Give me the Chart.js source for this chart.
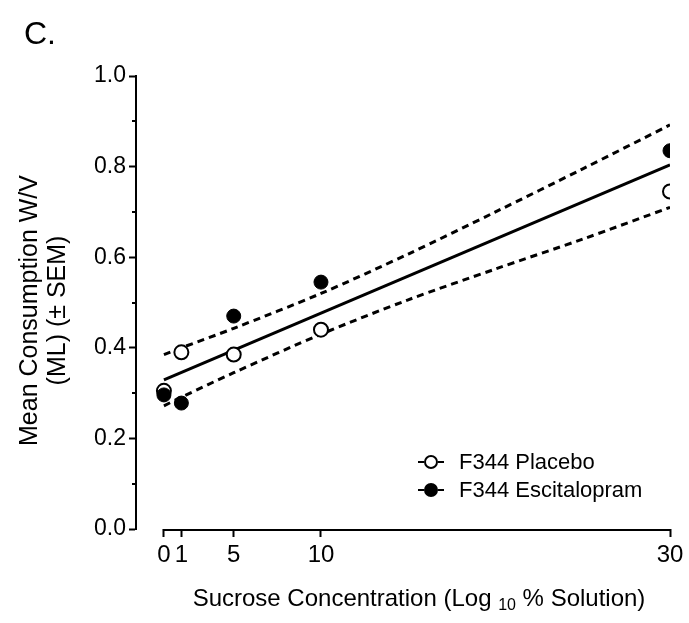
<!DOCTYPE html>
<html>
<head>
<meta charset="utf-8">
<script src="https://cdn.jsdelivr.net/npm/chart.js@4.4.1/dist/chart.umd.min.js"></script>
<style>
  body { margin: 0; background: #fff; }
  canvas { display: block; }
</style>
</head>
<body>
<canvas id="sucroseChart" width="689" height="623"></canvas>
<script>
// sucrose concentrations: plotting position and printed label
const xPos = [1, 2, 5, 10, 30];
const tickLabels = ['0', '1', '5', '10', '30'];

// mean consumption per group
const placebo = [0.305, 0.39, 0.385, 0.44, 0.745];
const escitalopram = [0.296, 0.278, 0.47, 0.545, 0.835];

// pooled regression line and its 95% band
const fitX = [1, 30];
const fitY = [0.329, 0.804];
const bandX = [1, 2, 5, 10, 15, 20, 25, 30];
const bandUpper = [0.385, 0.400, 0.443, 0.520, 0.607, 0.700, 0.795, 0.892];
const bandLower = [0.272, 0.291, 0.345, 0.430, 0.506, 0.574, 0.640, 0.710];

const yTicks = [0, 0.2, 0.4, 0.6, 0.8, 1.0];

const FONT = "'Liberation Sans', Arial, sans-serif";

function pts(xs, ys) {
  return xs.map((x, i) => ({ x: x, y: ys[i] }));
}

// extra drawing: x axis line, minor y ticks, titles, legend
const extras = {
  id: 'extras',
  afterDraw(chart) {
    const c = chart.ctx;
    const xs = chart.scales.x;
    const ys = chart.scales.y;
    const area = chart.chartArea;
    c.save();
    c.strokeStyle = '#000';
    c.fillStyle = '#000';

    // x axis line only across the data range
    c.lineWidth = 2;
    c.beginPath();
    c.moveTo(xs.getPixelForValue(xPos[0]) - 1, area.bottom + 1);
    c.lineTo(xs.getPixelForValue(xPos[xPos.length - 1]) + 1, area.bottom + 1);
    c.stroke();

    // short minor ticks between labelled ones
    for (let i = 0; i < yTicks.length - 1; i++) {
      const py = Math.round(ys.getPixelForValue((yTicks[i] + yTicks[i + 1]) / 2));
      c.beginPath();
      c.moveTo(area.left - 4, py);
      c.lineTo(area.left, py);
      c.stroke();
    }

    // panel letter
    c.font = '32px ' + FONT;
    c.textAlign = 'left';
    c.textBaseline = 'alphabetic';
    c.fillText('C.', 24, 44);

    // y title, two lines
    c.font = '25px ' + FONT;
    c.textAlign = 'center';
    c.textBaseline = 'middle';
    const midY = (area.top + area.bottom) / 2 + 8;
    c.save();
    c.translate(30, midY);
    c.rotate(-Math.PI / 2);
    c.fillText('Mean Consumption W/V', 0, 0);
    c.restore();
    c.save();
    c.translate(58, midY);
    c.rotate(-Math.PI / 2);
    c.fillText('(ML) (\u00B1 SEM)', 0, 0);
    c.restore();

    // x title with subscript
    const partA = 'Sucrose Concentration (Log ';
    const sub = '10';
    const partB = ' % Solution)';
    c.textBaseline = 'alphabetic';
    c.textAlign = 'left';
    c.font = '24px ' + FONT;
    const wA = c.measureText(partA).width;
    const wB = c.measureText(partB).width;
    c.font = '16px ' + FONT;
    const wS = c.measureText(sub).width;
    const total = wA + wS + wB;
    let tx = 419 - total / 2;
    const ty = 606;
    c.font = '24px ' + FONT;
    c.fillText(partA, tx, ty);
    tx += wA;
    c.font = '16px ' + FONT;
    c.fillText(sub, tx, ty + 4);
    tx += wS;
    c.font = '24px ' + FONT;
    c.fillText(partB, tx, ty);

    // legend
    const items = [
      { label: 'F344 Placebo', fill: '#fff' },
      { label: 'F344 Escitalopram', fill: '#000' }
    ];
    c.font = '22px ' + FONT;
    c.textBaseline = 'middle';
    items.forEach((it, i) => {
      const ly = 462 + i * 28;
      const lx = 431;
      c.lineWidth = 2;
      c.beginPath();
      c.moveTo(lx - 13, ly);
      c.lineTo(lx - 7, ly);
      c.moveTo(lx + 7, ly);
      c.lineTo(lx + 13, ly);
      c.stroke();
      c.beginPath();
      c.arc(lx, ly, 6, 0, Math.PI * 2);
      c.fillStyle = it.fill;
      c.fill();
      c.stroke();
      c.fillStyle = '#000';
      c.fillText(it.label, lx + 28, ly + 1);
    });
    c.restore();
  }
};

const ctx = document.getElementById('sucroseChart').getContext('2d');
const chart = new Chart(ctx, {
  type: 'scatter',
  data: {
    datasets: [
      {
        label: 'F344 Escitalopram',
        data: pts(xPos, escitalopram),
        backgroundColor: '#000',
        borderColor: '#000',
        borderWidth: 1,
        pointRadius: 7,
        order: 0
      },
      {
        label: 'F344 Placebo',
        data: pts(xPos, placebo),
        backgroundColor: '#fff',
        borderColor: '#000',
        borderWidth: 2,
        pointRadius: 7,
        order: 1
      },
      {
        label: 'fit',
        data: pts(fitX, fitY),
        showLine: true,
        borderColor: '#000',
        borderWidth: 3,
        pointRadius: 0,
        order: 2
      },
      {
        label: 'upper',
        data: pts(bandX, bandUpper),
        showLine: true,
        borderColor: '#000',
        borderWidth: 3,
        borderDash: [7, 5],
        tension: 0.3,
        pointRadius: 0,
        order: 3
      },
      {
        label: 'lower',
        data: pts(bandX, bandLower),
        showLine: true,
        borderColor: '#000',
        borderWidth: 3,
        borderDash: [7, 5],
        tension: 0.3,
        pointRadius: 0,
        order: 3
      }
    ]
  },
  options: {
    responsive: false,
    animation: false,
    devicePixelRatio: 1,
    layout: { padding: { left: 0, right: 19, top: 76, bottom: 0 } },
    plugins: {
      legend: { display: false },
      tooltip: { enabled: false }
    },
    scales: {
      x: {
        type: 'linear',
        min: -0.6,
        max: 30,
        afterFit: (s) => { s.height = 94; },
        afterBuildTicks: (s) => { s.ticks = xPos.map(v => ({ value: v })); },
        border: { display: false },
        grid: {
          drawOnChartArea: false,
          drawTicks: true,
          tickLength: 8,
          color: '#000',
          tickColor: '#000',
          tickWidth: 2
        },
        ticks: {
          color: '#000',
          padding: 4,
          maxRotation: 0,
          autoSkip: false,
          font: { family: FONT, size: 24 },
          callback: (v) => {
            const i = xPos.indexOf(v);
            return i >= 0 ? tickLabels[i] : '';
          }
        }
      },
      y: {
        min: 0,
        max: 1,
        afterFit: (s) => { s.width = 136; },
        afterBuildTicks: (s) => { s.ticks = yTicks.map(v => ({ value: v })); },
        border: { display: true, color: '#000', width: 2 },
        grid: {
          drawOnChartArea: false,
          drawTicks: true,
          tickLength: 7,
          tickColor: '#000',
          tickWidth: 2
        },
        ticks: {
          color: '#000',
          padding: 3,
          font: { family: FONT, size: 23 },
          callback: (v) => v.toFixed(1)
        }
      }
    }
  },
  plugins: [extras]
});
</script>
</body>
</html>
